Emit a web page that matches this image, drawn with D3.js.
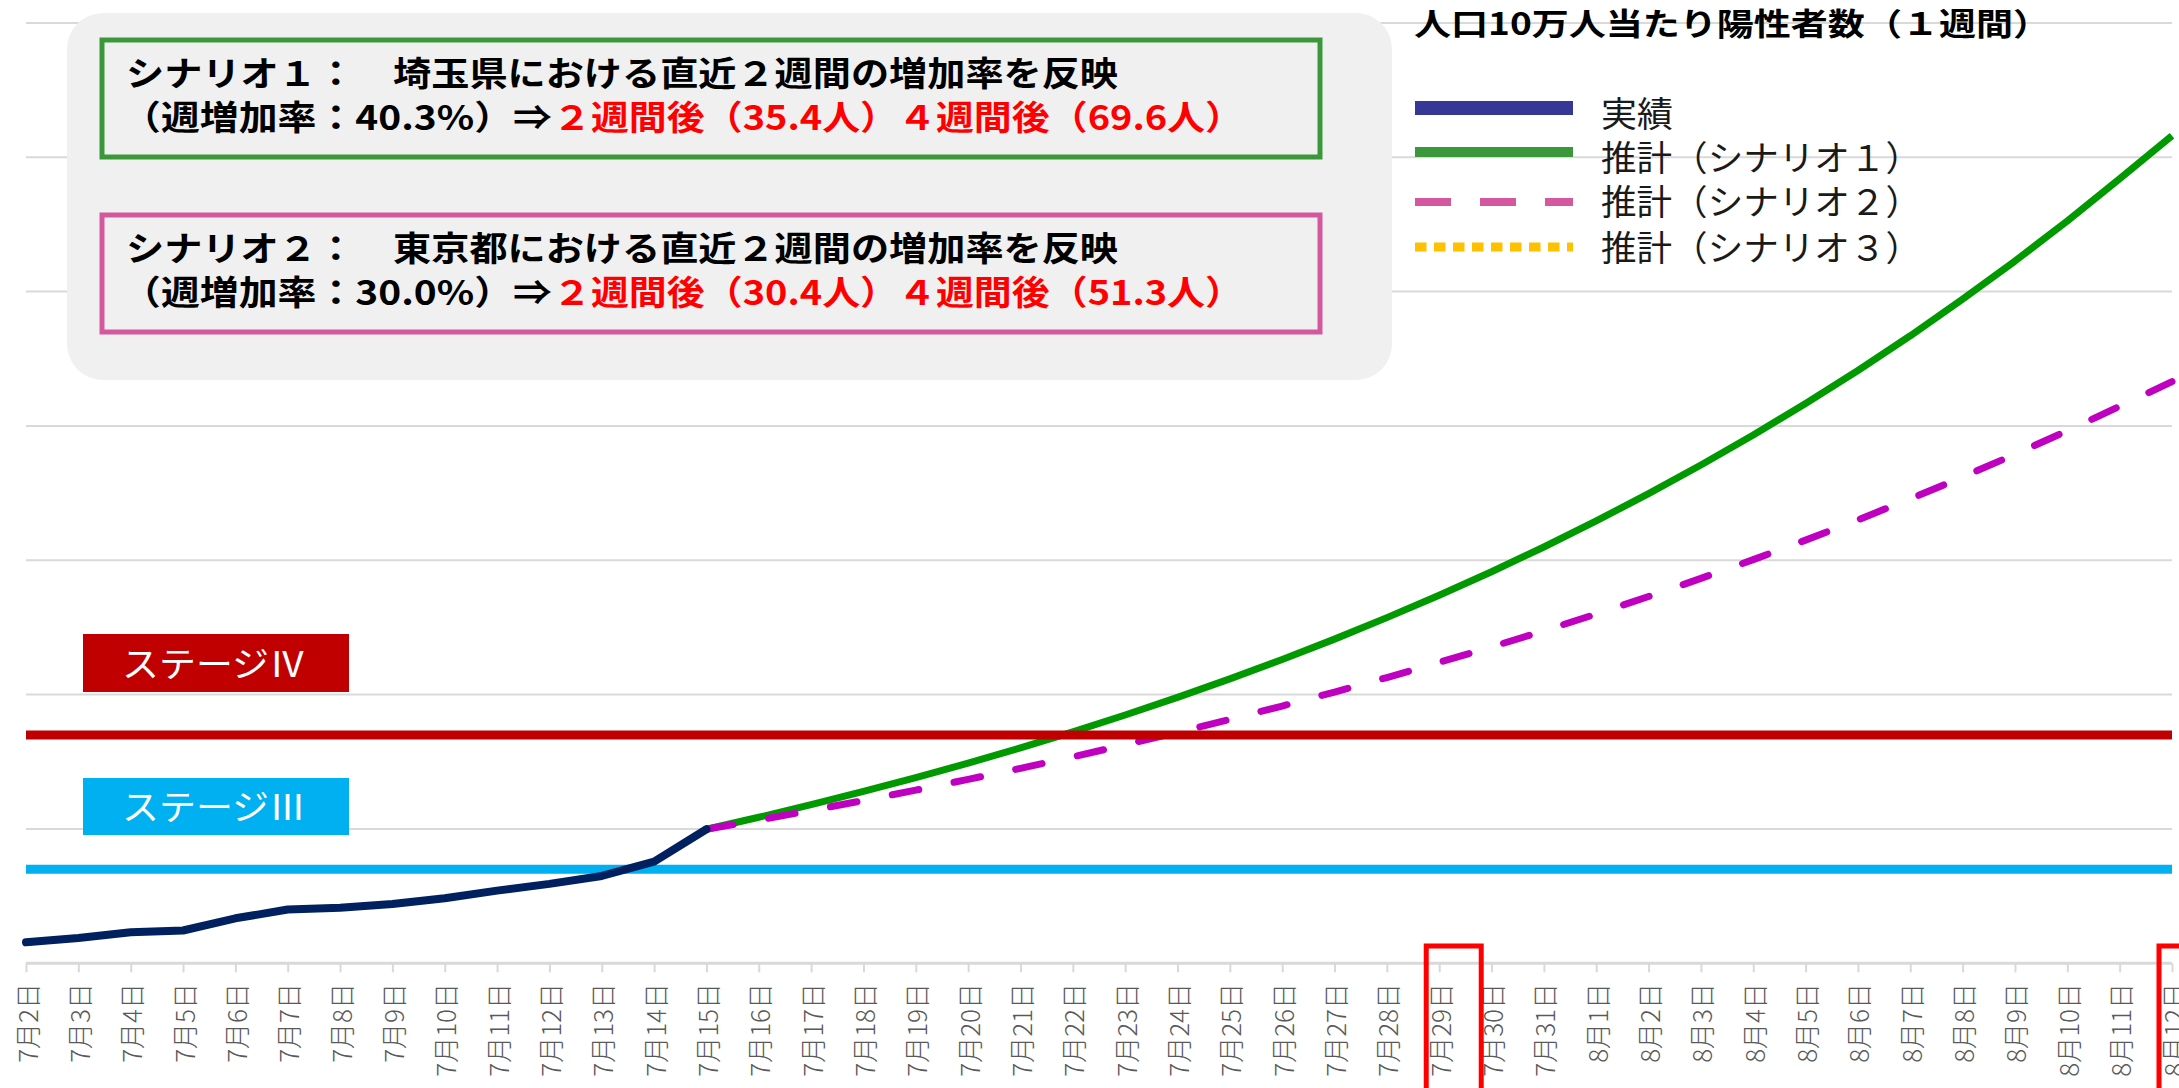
<!DOCTYPE html>
<html><head><meta charset="utf-8">
<script src="https://cdn.jsdelivr.net/npm/d3@7"></script>
<style>
html,body{margin:0;padding:0;background:#fff;overflow:hidden;}
svg{display:block;font-family:"Noto Sans CJK JP","Noto Sans",sans-serif;}
</style></head>
<body>
<svg id="chart" width="2179" height="1088"></svg>
<script>
// ---- data ----
const categories = ["7月2日","7月3日","7月4日","7月5日","7月6日","7月7日","7月8日","7月9日","7月10日","7月11日","7月12日","7月13日","7月14日","7月15日","7月16日","7月17日","7月18日","7月19日","7月20日","7月21日","7月22日","7月23日","7月24日","7月25日","7月26日","7月27日","7月28日","7月29日","7月30日","7月31日","8月1日","8月2日","8月3日","8月4日","8月5日","8月6日","8月7日","8月8日","8月9日","8月10日","8月11日","8月12日"];
const actual = [9.56,9.89,10.31,10.44,11.35,12.0,12.13,12.42,12.84,13.41,13.91,14.5,15.57,17.98];
const scenario1 = [17.98,18.87,19.81,20.79,21.82,22.90,24.04,25.23,26.48,27.79,29.17,30.61,32.13,33.73,35.40,37.15,38.99,40.93,42.96,45.09,47.32,49.67,52.13,54.71,57.43,60.27,63.26,66.40,69.6];
const scenario2 = [17.98,18.67,19.38,20.12,20.89,21.69,22.51,23.37,24.27,25.19,26.16,27.15,28.19,29.27,30.4,31.55,32.75,34.00,35.30,36.65,38.05,39.50,41.01,42.57,44.20,45.89,47.64,49.46,51.3];
const scenarioStart = "7月15日";
const stageValues = [15, 25];
const stageNames = ["ステージⅢ", "ステージⅣ"];
const yTicks = [8,18,28,38,48,58,68,78];
const highlightDates = ["7月29日","8月12日"];
const legendTitle = "人口10万人当たり陽性者数（１週間）";
const legendLabels = ["実績","推計（シナリオ１）","推計（シナリオ２）","推計（シナリオ３）"];
const boxLine1 = ["シナリオ１：　埼玉県における直近２週間の増加率を反映","シナリオ２：　東京都における直近２週間の増加率を反映"];
const boxLine2Black = ["（週増加率：40.3%）⇒","（週増加率：30.0%）⇒"];
const boxLine2Red = ["２週間後（35.4人）４週間後（69.6人）","２週間後（30.4人）４週間後（51.3人）"];

// ---- build ----
const svg = d3.select("#chart");
const x = d3.scalePoint().domain(categories).range([26, 2172]);
const y = d3.scaleLinear().domain([8, 78]).range([963.3, 22.9]);
const startIdx = categories.indexOf(scenarioStart);

// gridlines
svg.append("g").selectAll("line").data(yTicks.slice(1)).join("line")
  .attr("x1", x.range()[0]).attr("x2", x.range()[1])
  .attr("y1", d => y(d)).attr("y2", d => y(d))
  .attr("stroke", "#d9d9d9").attr("stroke-width", 2);

// x axis
const xAxis = d3.axisBottom(x).tickSize(9).tickFormat("");
const gx = svg.append("g").attr("transform", `translate(0,${y(8)})`).call(xAxis);
gx.select(".domain").attr("stroke", "#d9d9d9").attr("stroke-width", 3)
  .attr("d", `M${x.range()[0]},0H${x.range()[1]}`);
gx.selectAll(".tick line").attr("stroke", "#d9d9d9").attr("stroke-width", 2);

svg.append("g").selectAll("text").data(categories).join("text")
  .attr("transform", d => `translate(${x(d)},983) rotate(-90)`)
  .attr("text-anchor", "end").attr("dominant-baseline", "central")
  .attr("font-size", 26).attr("font-weight", 300).attr("fill", "#595959")
  .text(d => d);

// stage III line (under data)
svg.append("line")
  .attr("x1", x.range()[0]).attr("x2", x.range()[1])
  .attr("y1", y(stageValues[0])).attr("y2", y(stageValues[0]))
  .attr("stroke", "#00b0f0").attr("stroke-width", 9);

// series lines
const line = d3.line().x(d => x(d[0])).y(d => y(d[1]));
const act = actual.map((v, i) => [categories[i], v]);
const s1 = scenario1.map((v, i) => [categories[startIdx + i], v]);
const s2 = scenario2.map((v, i) => [categories[startIdx + i], v]);

svg.append("path").datum(s1).attr("d", line).attr("fill", "none")
  .attr("stroke", "#009900").attr("stroke-width", 7).attr("stroke-linejoin", "round");
svg.append("path").datum(s2).attr("d", line).attr("fill", "none")
  .attr("stroke", "#c000c0").attr("stroke-width", 7).attr("stroke-linecap", "round")
  .attr("stroke-dasharray", "27,36");
svg.append("path").datum(act).attr("d", line).attr("fill", "none")
  .attr("stroke", "#002060").attr("stroke-width", 8).attr("stroke-linejoin", "round").attr("stroke-linecap", "round");

// stage IV line
svg.append("line")
  .attr("x1", x.range()[0]).attr("x2", x.range()[1])
  .attr("y1", y(stageValues[1])).attr("y2", y(stageValues[1]))
  .attr("stroke", "#c00000").attr("stroke-width", 9);

// stage labels
const stageBoxes = [{fill:"#00b0f0", y0:778, y1:835, name: stageNames[0]}, {fill:"#c00000", y0:634, y1:692, name: stageNames[1]}];
stageBoxes.forEach(b => {
  svg.append("rect").attr("x", 83).attr("y", b.y0).attr("width", 266).attr("height", b.y1 - b.y0).attr("fill", b.fill);
  svg.append("text").attr("x", 122).attr("y", (b.y0 + b.y1) / 2 - 2)
    .attr("dominant-baseline", "central").attr("font-size", 35).attr("fill", "#fff").attr("font-weight", 400)
    .attr("textLength", 184).attr("lengthAdjust", "spacingAndGlyphs")
    .text(b.name);
});

// annotation panel
svg.append("rect").attr("x", 67).attr("y", 13).attr("width", 1325).attr("height", 367).attr("rx", 36)
  .attr("fill", "#f0f0f0");
const boxes = [{top: 40, stroke: "#3a983a"}, {top: 215, stroke: "#d4589e"}];
boxes.forEach((b, i) => {
  svg.append("rect").attr("x", 102).attr("y", b.top).attr("width", 1218).attr("height", 117)
    .attr("fill", "none").attr("stroke", b.stroke).attr("stroke-width", 5);
  svg.append("text").attr("x", 126).attr("y", b.top + 31).attr("dominant-baseline", "central")
    .attr("font-size", 34).attr("font-weight", 700).attr("fill", "#000")
    .attr("textLength", 992).attr("lengthAdjust", "spacingAndGlyphs").text(boxLine1[i]);
  svg.append("text").attr("x", 122).attr("y", b.top + 75).attr("dominant-baseline", "central")
    .attr("font-size", 34).attr("font-weight", 700).attr("fill", "#000")
    .attr("textLength", 430).attr("lengthAdjust", "spacingAndGlyphs").text(boxLine2Black[i]);
  svg.append("text").attr("x", 553).attr("y", b.top + 75).attr("dominant-baseline", "central")
    .attr("font-size", 34).attr("font-weight", 700).attr("fill", "#ff0000")
    .attr("textLength", 690).attr("lengthAdjust", "spacingAndGlyphs").text(boxLine2Red[i]);
});

// legend
svg.append("text").attr("x", 1414).attr("y", 21).attr("dominant-baseline", "central")
  .attr("font-size", 31).attr("font-weight", 700).attr("fill", "#000")
  .attr("textLength", 636).attr("lengthAdjust", "spacingAndGlyphs").text(legendTitle);
const legendStyles = [
  {color: "#363896", width: 14, dash: null, ly: 108, ty: 111},
  {color: "#3a983a", width: 10, dash: null, ly: 152, ty: 155},
  {color: "#d557a0", width: 8, dash: "36,29", ly: 202, ty: 199},
  {color: "#ffc000", width: 9, dash: "11.5,7.5", ly: 247, ty: 245}
];
legendStyles.forEach((s, i) => {
  const l = svg.append("line").attr("x1", 1415).attr("x2", 1573).attr("y1", s.ly).attr("y2", s.ly)
    .attr("stroke", s.color).attr("stroke-width", s.width);
  if (s.dash) l.attr("stroke-dasharray", s.dash);
  svg.append("text").attr("x", 1601).attr("y", s.ty).attr("dominant-baseline", "central")
    .attr("font-size", 35).attr("fill", "#1a1a1a")
    .attr("textLength", i === 0 ? 72 : 320).attr("lengthAdjust", "spacingAndGlyphs")
    .text(legendLabels[i]);
});

// highlight boxes on x labels
svg.append("g").selectAll("rect").data(highlightDates).join("rect")
  .attr("x", d => x(d) - 13).attr("y", 946).attr("width", 55).attr("height", 150)
  .attr("fill", "none").attr("stroke", "#ff0000").attr("stroke-width", 5);
</script>
</body></html>
